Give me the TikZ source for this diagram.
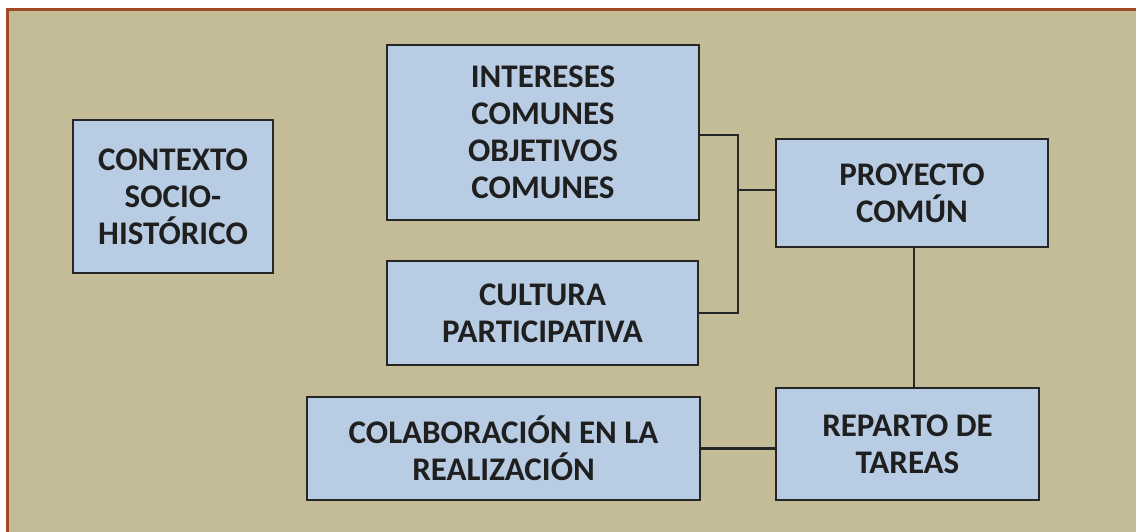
\documentclass[tikz,border=0pt]{standalone}
\usepackage{fontspec}
\setmainfont{Carlito}
\definecolor{bgtan}{HTML}{C4BC96}
\definecolor{boxblue}{HTML}{B8CCE4}
\definecolor{edge}{HTML}{262626}
\definecolor{frame}{HTML}{9E4A24}
\begin{document}
\begin{tikzpicture}[x=1pt,y=-1pt,
  box/.style={draw=edge,line width=2.6pt,fill=boxblue,align=center,
    font=\fontsize{33}{37}\selectfont\bfseries,text=black!88,inner sep=0pt},
  link/.style={draw=edge,line width=2.4pt}]
\useasboundingbox (0,0) rectangle (1136,532);
\fill[bgtan] (7,10) rectangle (1136,532);
\draw[frame,line width=3pt] (7,532) -- (7,10) -- (1136,10);
\node[box,minimum width=200pt,minimum height=153pt] (ctx) at (173,196.5) {CONTEXTO\\SOCIO-\\HISTÓRICO};
\node[box,minimum width=312pt,minimum height=175pt] (int) at (543,132.5) {INTERESES\\COMUNES\\OBJETIVOS\\COMUNES};
\node[box,minimum width=311pt,minimum height=104pt] (cul) at (542.5,313) {CULTURA\\PARTICIPATIVA};
\node[box,minimum width=272pt,minimum height=108pt] (pro) at (912,193) {PROYECTO\\COMÚN};
\node[box,minimum width=263pt,minimum height=112pt] (rep) at (907.5,444) {REPARTO DE\\TAREAS};
\node[box,minimum width=393pt,minimum height=103pt] (col) at (503.5,448.5) {COLABORACIÓN EN LA\\REALIZACIÓN};
\coordinate (j) at (738,190);
\draw[link] ([yshift=-2.5pt]int.east) -| (j) |- (cul.east);
\draw[link] (j) -- (pro.west |- j);
\draw[link] (pro.south -| 914,0) -- (rep.north -| 914,0);
\draw[link] (col.east) -- (rep.west |- col.east);
\end{tikzpicture}
\end{document}
